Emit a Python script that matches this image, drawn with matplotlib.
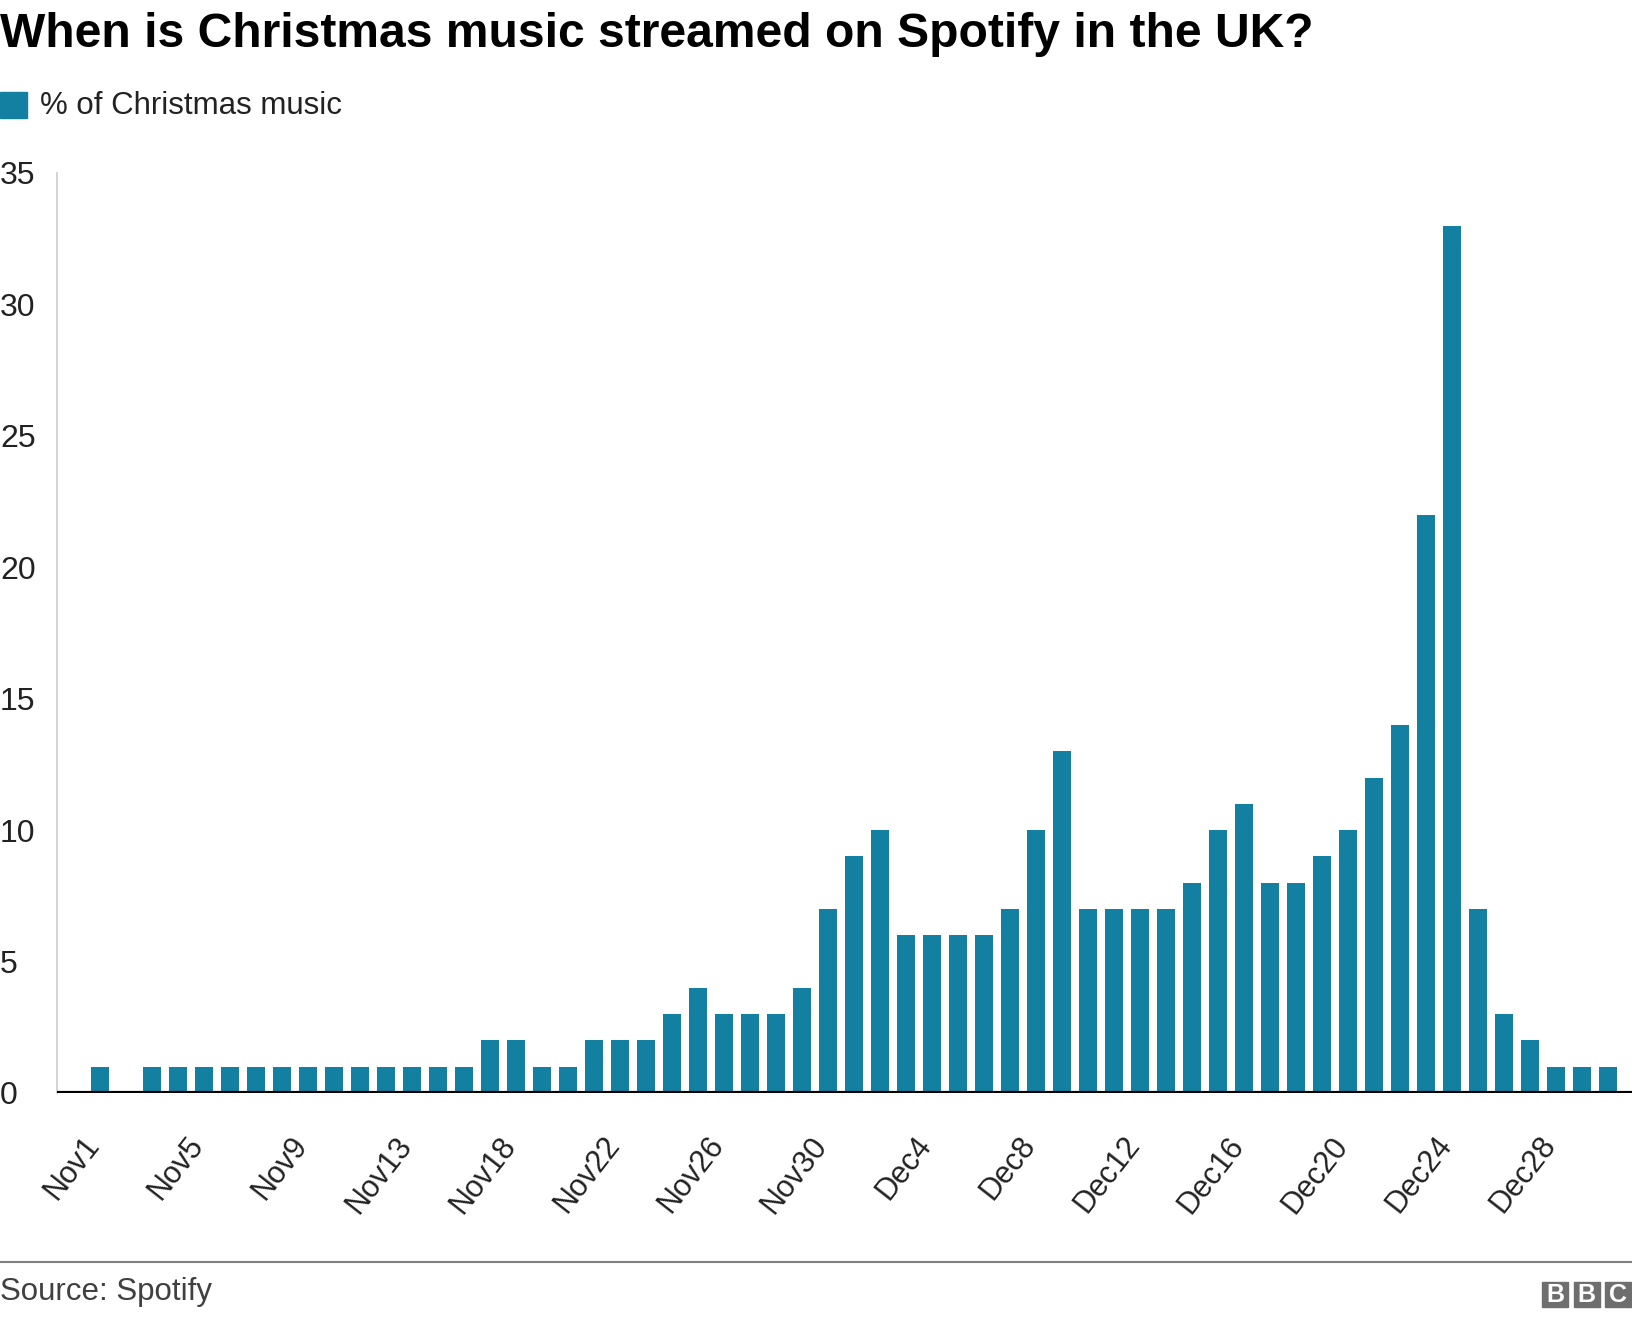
import matplotlib
matplotlib.use("Agg")
import matplotlib.pyplot as plt
from matplotlib.patches import Rectangle
from matplotlib.transforms import ScaledTranslation

plt.rcParams['font.family'] = ['Liberation Sans', 'DejaVu Sans']

# ---- data ----
dates = (["Nov%d" % d for d in range(1, 14)]
         + ["Nov14", "Nov15", "Nov17"]
         + ["Nov%d" % d for d in range(18, 31)]
         + ["Dec%d" % d for d in range(1, 31)])
values = [1, 0, 1, 1, 1, 1, 1, 1, 1, 1, 1, 1, 1, 1, 1,
          2, 2, 1, 1, 2, 2, 2, 3, 4, 3, 3, 3, 4,
          7, 9, 10, 6, 6, 6, 6, 7, 10, 13, 7, 7, 7, 7, 8, 10, 11, 8, 8, 9, 10, 12, 14, 22, 33,
          7, 3, 2, 1, 1, 1]
yticks = [0, 5, 10, 15, 20, 25, 30, 35]
title = "When is Christmas music streamed on Spotify in the UK?"
series_name = "% of Christmas music"
source = "Source: Spotify"

W, H = 1632, 1318
fig = plt.figure(figsize=(W / 100, H / 100), dpi=100)

ax_left, ax_top, ax_bottom = 57, 173, 1093
ax = fig.add_axes([ax_left / W, (H - ax_bottom) / H, (W - ax_left) / W, (ax_bottom - ax_top) / H])

color = "#1380A1"
x = list(range(len(dates)))
ax.bar(x, values, width=0.69, color=color, zorder=2)

ax.set_xlim(-43 / 26, (W - 100) / 26)
ax.set_ylim(0, 35)

for s in ["top", "right", "bottom"]:
    ax.spines[s].set_visible(False)
ax.spines["left"].set_color("#cccccc")
ax.spines["left"].set_linewidth(1.2)
ax.axhline(0, color="black", lw=3, zorder=3)

ax.set_yticks(yticks)
ax.set_yticklabels([str(v) for v in yticks], fontsize=23, color="#222222")
ax.tick_params(axis="y", length=0, pad=41)
for lab in ax.get_yticklabels():
    lab.set_horizontalalignment("left")

tick_idx = list(range(0, len(dates), 4))
ax.set_xticks(tick_idx)
ax.set_xticklabels([dates[i] for i in tick_idx], fontsize=22, color="#222222",
                   rotation=52, ha="right", va="center", rotation_mode="anchor")
ax.tick_params(axis="x", length=0, pad=34)
shift = ScaledTranslation(-6 / 100, 0, fig.dpi_scale_trans)
for lab in ax.get_xticklabels():
    lab.set_transform(lab.get_transform() + shift)

# title
fig.text(0, 1 - 47 / H, title, fontsize=34.6, fontweight="bold", ha="left", va="baseline", color="#000000")

# legend
fig.patches.append(Rectangle((0, 1 - 118 / H), 27 / W, 26 / H, transform=fig.transFigure,
                             color=color, figure=fig))
fig.text(40 / W, 1 - 106 / H, series_name, fontsize=22.5, ha="left", va="center", color="#222222")

# footer
fig.add_artist(plt.Line2D([0, 1], [1 - 1262 / H, 1 - 1262 / H], transform=fig.transFigure,
                          color="#808080", lw=1.5))
fig.text(0, 1 - 1292 / H, source, fontsize=22.5, ha="left", va="center", color="#404040")

for i, letter in enumerate("BBC"):
    x0 = 1542 + i * 31.5
    fig.patches.append(Rectangle((x0 / W, 1 - 1307 / H), 26 / W, 25 / H, transform=fig.transFigure,
                                 color="#6e6e6e", figure=fig))
    fig.text((x0 + 13) / W, 1 - 1294.5 / H, letter, fontsize=18, fontweight="bold",
             ha="center", va="center", color="white")

fig.savefig("out.png", dpi=100)
